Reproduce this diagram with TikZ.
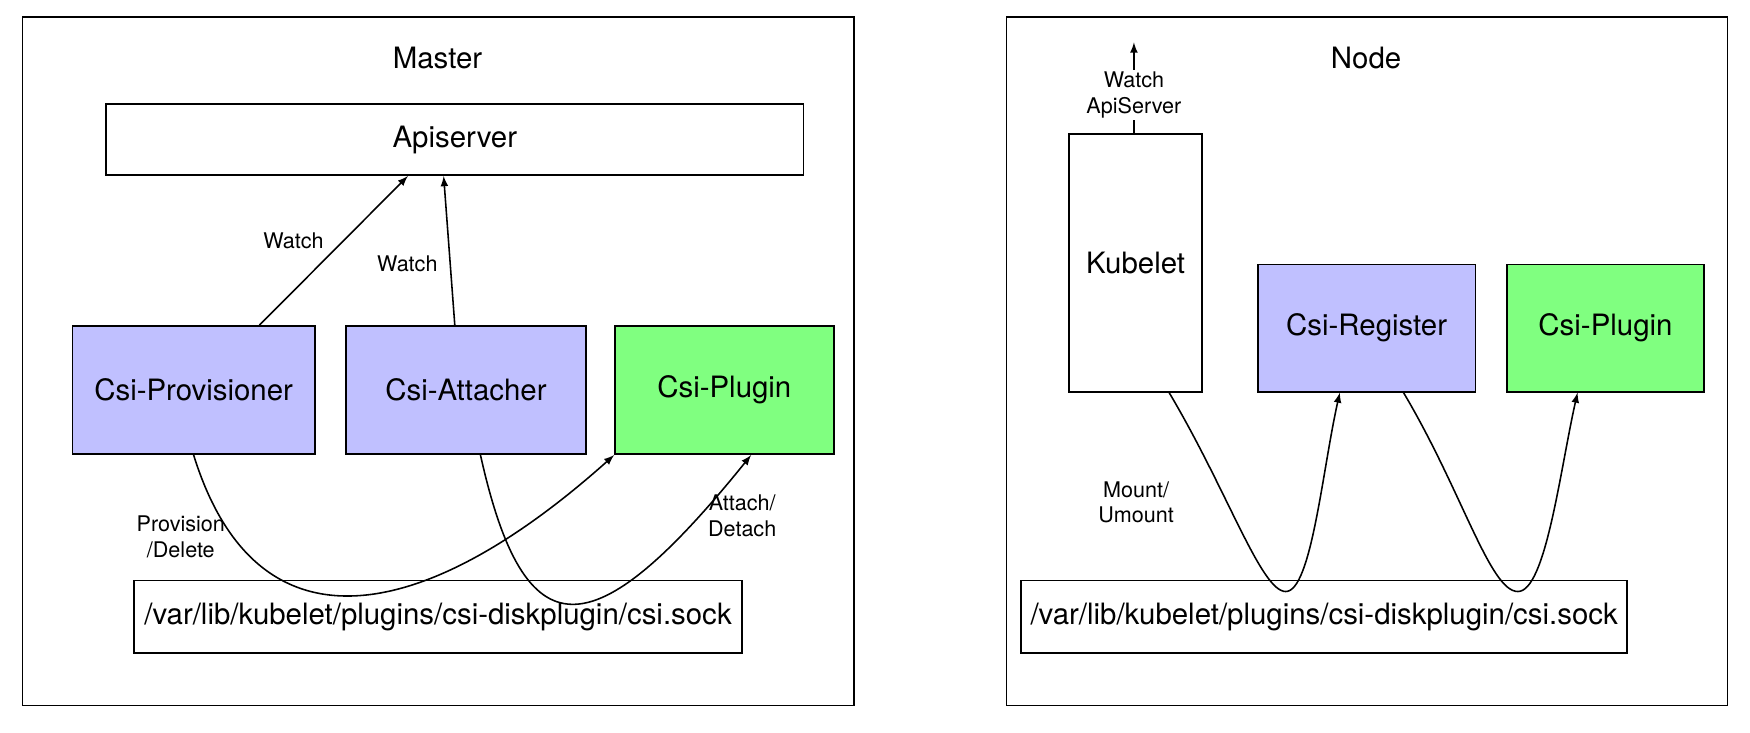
\documentclass[tikz,border=0pt]{standalone}
\usepackage{fontspec}
\setmainfont{TeX Gyre Heros}
\usetikzlibrary{calc}
\tikzset{
  box/.style={draw, thick, fill=white, inner sep=0pt, font=\fontsize{15}{18}\selectfont},
  prov/.style={box, fill=csiblue},
  plug/.style={box, fill=csigreen},
  lbl/.style={font=\fontsize{11}{13}\selectfont, align=center},
  arr/.style={-latex, thick},
}
\definecolor{csiblue}{HTML}{C0C0FF}
\definecolor{csigreen}{HTML}{80FF80}
\newcommand\boxnode[6][box]{% style, name, x1, y1, x2, y2, text comes after
  \node[#1, minimum width={(#5-#3)*0.02cm}, minimum height={(#6-#4)*0.02cm}] (#2) at ({(#3+#5)/2},{(#4+#6)/2})}
\begin{document}
\begin{tikzpicture}[x=0.02cm,y=-0.02cm]
\useasboundingbox (0,0) rectangle (1568,656);
% frames
\draw[thick] (20,15) rectangle (765,632);
\draw[thick] (902,15) rectangle (1548,632);
\node[font=\fontsize{15}{18}\selectfont] (mtitle) at (392,52) {Master};
\node[font=\fontsize{15}{18}\selectfont] (ntitle) at (1224,52) {Node};

% master side
\boxnode{api}{95}{93}{720}{157} {Apiserver};
\boxnode[prov]{mprov}{65}{292}{282}{407} {Csi-Provisioner};
\boxnode[prov]{matt}{310}{292}{525}{407} {Csi-Attacher};
\boxnode[plug]{mplug}{551}{292}{747}{407} {Csi-Plugin};
\boxnode{msock}{120}{520}{665}{585} {/var/lib/kubelet/plugins/csi-diskplugin/csi.sock};

\draw[arr] ([xshift=-17\pgflinewidth*0+59*0.02cm]mprov.north) -- ([xshift=-42*0.02cm]api.south);
\draw[arr] ([xshift=-10*0.02cm]matt.north) -- ([xshift=-10*0.02cm]api.south);
\node[lbl] (w1) at (263,216) {Watch};
\node[lbl] (w2) at (365,236) {Watch};

\draw[arr] (mprov.south) .. controls (230,590) and (380,560) .. (mplug.south west);
\draw[arr] ([xshift=13*0.02cm]matt.south) .. controls (470,585) and (530,585) .. ([xshift=24*0.02cm]mplug.south);
\node[lbl] (pd) at (162,481) {Provision\\/Delete};
\node[lbl] (ad) at (665,462) {Attach/\\Detach};

% node side
\boxnode{kube}{958}{120}{1077}{351} {Kubelet};
\boxnode[prov]{nreg}{1127}{237}{1322}{351} {Csi-Register};
\boxnode[plug]{nplug}{1350}{237}{1527}{351} {Csi-Plugin};
\boxnode{nsock}{915}{520}{1458}{585} {/var/lib/kubelet/plugins/csi-diskplugin/csi.sock};
\coordinate (apiout) at (1016,38);

\draw[arr] ([xshift=-1.5*0.02cm]kube.north) -- (apiout);
\node[lbl, fill=white, inner sep=1pt] (wa) at (1016,85) {Watch\\ApiServer};

\draw[arr] ([xshift=30*0.02cm]kube.south) .. controls (1100,440) and (1130,530) .. (1152,530)
  .. controls (1175,530) and (1185,420) .. ([xshift=-24*0.02cm]nreg.south);
\draw[arr] ([xshift=33*0.02cm]nreg.south) .. controls (1310,440) and (1335,530) .. (1360,530)
  .. controls (1385,530) and (1398,420) .. ([xshift=-25*0.02cm]nplug.south);
\node[lbl] (mu) at (1018,450) {Mount/\\Umount};
\end{tikzpicture}
\end{document}
